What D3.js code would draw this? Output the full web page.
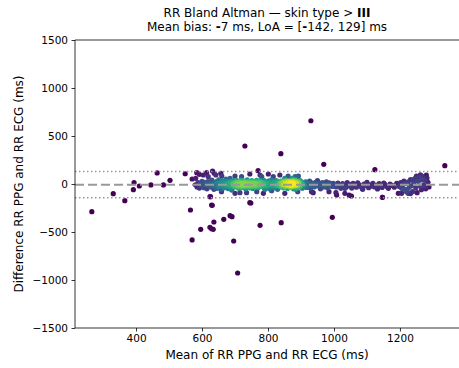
<!DOCTYPE html>
<html><head><meta charset="utf-8">
<script src="https://cdn.jsdelivr.net/npm/d3@7"></script>
<style>body{margin:0;background:#fff}svg{display:block;font-family:"DejaVu Sans",sans-serif}</style>
</head><body><svg id="c" width="459" height="368"></svg>
<script>
// ---- data ----
const titleLine1 = ["RR Bland Altman \u2014 skin type > ", "III"];
const meanBias = -7;
const loaLow = -142;
const loaHigh = 129;
const xTicks = [400, 600, 800, 1000, 1200];
const yTicks = [-1500, -1000, -500, 0, 500, 1000, 1500];
const xLabel = "Mean of RR PPG and RR ECG (ms)";
const yLabel = "Difference RR PPG and RR ECG (ms)";

// dense band (mean, difference)
const bandX = [580,585,588,592,595,598,600,603,606,608,612,615,618,620,624,627,630,633,636,639,
641,643,645,647,649,651,653,655,657,659,661,663,665,667,669,671,673,675,677,679,681,683,685,687,689,691,693,695,697,699,
700,702,703,705,706,708,710,711,713,714,716,718,719,721,722,724,726,727,729,730,732,734,735,737,738,740,742,743,745,746,748,750,751,753,754,756,758,759,761,762,764,766,767,769,770,772,774,775,777,779,
781,783,785,787,789,791,793,795,797,799,801,803,805,807,809,811,813,815,817,819,821,823,825,827,829,831,833,835,837,839,
840,841,843,844,846,847,849,850,852,853,855,856,858,859,861,862,864,865,867,868,870,871,873,874,876,877,879,880,882,883,885,886,888,889,891,892,894,895,897,898,900,902,904,906,908,
911,914,917,920,923,926,929,932,935,938,941,944,947,950,953,956,959,962,965,968,971,974,977,980,983,986,989,992,995,998,
1002,1007,1012,1016,1021,1026,1030,1035,1040,1045,1049,1054,1058,1063,1068,1072,1077,1081,1086,1091,1095,1100,1105,1109,1114,1118,1123,1128,1132,1137,1141,1146,1151,1155,1160,1165,1170,1176,1183,1190,
1198,1202,1205,1208,1212,1215,1218,1222,1225,1228,1232,1235,1238,1242,1245,1248,1252,1255,1258,1262,1265,1268,1272,1275,1278,1282,1285,1288,1232,1262];
const bandY = [-8,-30,15,-42,8,-22,28,-12,-38,18,-5,-50,25,-18,8,-32,40,-10,-55,15,
-18,25,-45,8,-32,42,-12,18,-55,-3,32,-26,12,-40,22,-8,50,-22,3,-48,28,-15,9,-36,20,-52,0,36,-25,13,
-8,18,-30,5,36,-18,12,-44,-3,24,-26,7,40,-12,-36,15,-5,29,-22,3,-50,20,-9,44,-32,10,-15,26,-40,0,18,-23,35,-6,-46,13,-18,6,28,-29,-2,39,-13,22,-38,9,-20,32,-5,16,
-26,15,-3,38,-44,9,-18,26,-35,4,-12,32,-50,18,-6,44,-29,0,22,-40,12,-20,36,-9,-55,25,-15,6,-32,29,
3,-22,29,-9,15,-40,-2,22,-29,7,36,-15,12,-46,-5,26,-20,0,18,-35,9,-12,32,-26,4,-50,20,-8,40,-18,-3,13,-38,28,-13,6,-29,19,-6,35,-23,10,-44,15,-9,
-15,22,-36,6,-8,29,-44,12,-18,0,-29,18,-5,36,-22,9,-50,-3,15,-32,4,-12,23,-40,-6,13,-20,3,-26,8,
-8,-30,9,-18,-45,3,-12,-38,15,-22,-3,-42,6,-15,-33,12,-8,-27,-48,0,-18,18,-39,-9,-22,8,-30,-14,-52,5,-21,-36,10,-6,-27,-45,0,-15,-33,8,
-25,15,-45,-10,30,-55,5,-70,22,-35,45,-18,-80,10,55,-40,-90,28,68,-22,-60,80,-12,38,-50,62,18,-30,-100,95];

// scattered points near the band and outliers
const sparseX = [584,592,604,614,619,632,637,642,657,660,685,700,720,745,770,776,781,801,816,836,851,861,887,
624,629,659,690,700,735,745,766,786,791,811,851,715,
882,892,932,937,985,1006,1008,1033,1033,1046,1053,1087,1147,1195,1205,1220,1225,1250,1280,1265,1276,884,890,872,
266,331,366,394,392,410,445,464,483,503,549,565,570,570,581,626,631,636,596,624,629,634,666,685,691,696,708,730,748,776,930,839,969,840,995,1124,1336,1147,1215,1240];
const sparseY = [118,101,94,118,76,135,111,94,111,83,59,83,76,104,139,94,76,104,76,94,59,83,76,
-132,-219,-80,-63,-97,-90,-195,-80,-97,-55,-70,-97,-90,
76,83,-80,-90,-80,-90,-115,-45,-97,-115,-125,-55,-139,-97,-97,-80,-97,83,94,42,-21,-55,-80,59,
-288,-101,-174,14,-59,-21,-10,115,-10,38,107,-271,-583,52,59,-132,-222,-396,-472,-451,-466,-472,-368,-330,-340,-594,-927,396,-198,-430,659,316,205,-403,-347,149,191,-139,-55,42];

// ---- layout ----
const svg = d3.select("#c");
const L = 75, T = 40, B = 328, R = 459;
const x = d3.scaleLinear().domain([215, 1379]).range([L, R]);
const y = d3.scaleLinear().domain([-1500, 1500]).range([B, T]);

const pts = [];
bandX.forEach((v, i) => pts.push({m: v, d: bandY[i]}));
sparseX.forEach((v, i) => pts.push({m: v, d: sparseY[i]}));

// density (gaussian kernel in pixel space)
const h = 5;
pts.forEach(p => { p.px = x(p.m); p.py = y(p.d); });
pts.forEach(p => {
  let s = 0;
  pts.forEach(q => { const dx = p.px - q.px, dy = p.py - q.py; s += Math.exp(-(dx*dx + dy*dy) / (2*h*h)); });
  p.z = s;
});
const zExt = d3.extent(pts, p => p.z);
const norm = d3.scaleLinear().domain(zExt).range([0, 1]);
pts.forEach(p => { p.t = Math.pow(norm(p.z), 1.6); });
pts.sort((a, b) => a.t - b.t);

const g = svg.append("g");
g.selectAll("circle").data(pts).enter().append("circle")
  .attr("cx", p => x(p.m)).attr("cy", p => y(p.d)).attr("r", 2.6)
  .attr("fill", p => d3.interpolateViridis(p.t));

// reference lines
g.append("line").attr("x1", L).attr("x2", R).attr("y1", y(meanBias)).attr("y2", y(meanBias))
  .attr("stroke", "#999").attr("stroke-width", 2).attr("stroke-dasharray", "9,4");
[loaLow, loaHigh].forEach(v => {
  g.append("line").attr("x1", L).attr("x2", R).attr("y1", y(v)).attr("y2", y(v))
    .attr("stroke", "#999").attr("stroke-width", 1.5).attr("stroke-dasharray", "1.5,2.5");
});

// axes
const xa = svg.append("g").attr("transform", `translate(0,${B})`)
  .call(d3.axisBottom(x).tickValues(xTicks).tickSize(3.5).tickPadding(3.5).tickFormat(d3.format("d")));
const ya = svg.append("g").attr("transform", `translate(${L},0)`)
  .call(d3.axisLeft(y).tickValues(yTicks).tickSize(3.5).tickPadding(3.5).tickFormat(d => d < 0 ? "\u2212" + Math.abs(d) : d));
[xa, ya].forEach(a => {
  a.selectAll("text").attr("font-size", 10.5).attr("font-family", "DejaVu Sans").attr("fill", "#000");
  a.selectAll("line").attr("stroke", "#000").attr("stroke-width", 0.8);
  a.select(".domain").remove();
});
// spines
svg.append("line").attr("x1", L).attr("x2", R).attr("y1", B).attr("y2", B).attr("stroke", "#000").attr("stroke-width", 0.8);
svg.append("line").attr("x1", L).attr("x2", R).attr("y1", T).attr("y2", T).attr("stroke", "#000").attr("stroke-width", 0.8);
svg.append("line").attr("x1", L).attr("x2", L).attr("y1", T).attr("y2", B).attr("stroke", "#000").attr("stroke-width", 0.8);

// labels
svg.append("text").attr("x", 267).attr("y", 359).attr("text-anchor", "middle").attr("font-size", 12).text(xLabel);
svg.append("text").attr("transform", `translate(22.5,${(T + B) / 2}) rotate(-90)`).attr("text-anchor", "middle").attr("font-size", 12).text(yLabel);

// title
const t1 = svg.append("text").attr("x", 267).attr("y", 17).attr("text-anchor", "middle").attr("font-size", 12);
t1.append("tspan").text(titleLine1[0]);
t1.append("tspan").attr("font-weight", "bold").text(titleLine1[1]);
const t2 = svg.append("text").attr("x", 267).attr("y", 31).attr("text-anchor", "middle").attr("font-size", 12);
t2.append("tspan").text("Mean bias: ");
t2.append("tspan").attr("font-weight", "bold").text("-");
t2.append("tspan").text(Math.abs(meanBias) + " ms, LoA = [");
t2.append("tspan").attr("font-weight", "bold").text("-");
t2.append("tspan").text(Math.abs(loaLow) + ", " + loaHigh + "] ms");
</script></body></html>
